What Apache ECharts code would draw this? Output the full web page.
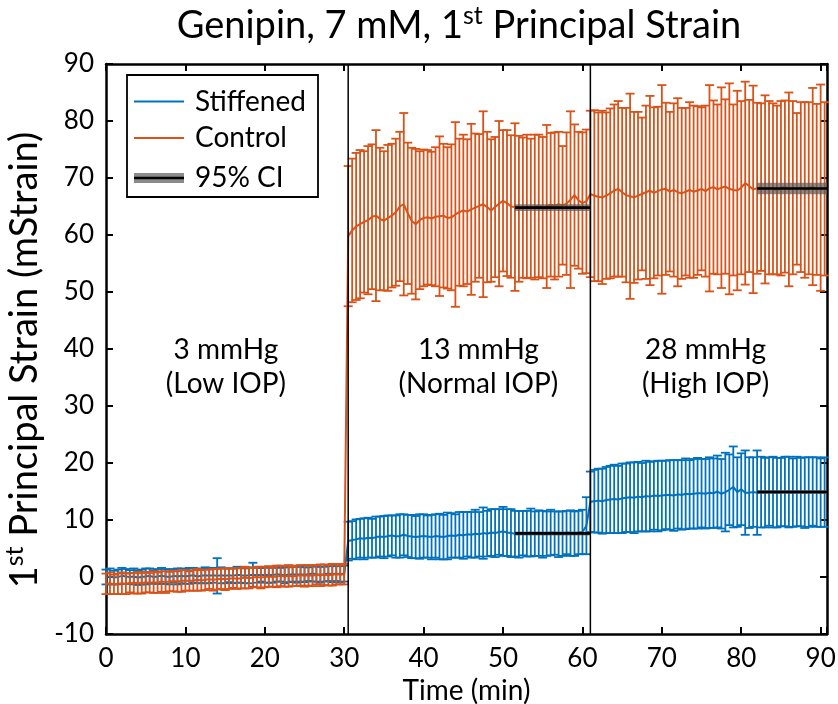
<!DOCTYPE html>
<html><head><meta charset="utf-8">
<script src="https://cdn.jsdelivr.net/npm/echarts@6/dist/echarts.min.js"></script>
<style>html,body{margin:0;padding:0;background:#fff}#c{width:838px;height:704px}</style>
</head><body><div id="c"></div>
<script>
const FONT = 'Lato';
// ---- time stamps (min) ----
const timeLow = [0,0.5,1,1.5,2,2.5,3,3.5,4,4.5,5,5.5,6,6.5,7,7.5,8,8.5,9,9.5,10,10.5,11,11.5,12,12.5,13,13.5,14,14.5,15,15.5,16,16.5,17,17.5,18,18.5,19,19.5,20,20.5,21,21.5,22,22.5,23,23.5,24,24.5,25,25.5,26,26.5,27,27.5,28,28.5,29,29.5,30];
const timeNormal = [30.5,31,31.5,32,32.5,33,33.5,34,34.5,35,35.5,36,36.5,37,37.5,38,38.5,39,39.5,40,40.5,41,41.5,42,42.5,43,43.5,44,44.5,45,45.5,46,46.5,47,47.5,48,48.5,49,49.5,50,50.5,51,51.5,52,52.5,53,53.5,54,54.5,55,55.5,56,56.5,57,57.5,58,58.5,59,59.5,60,60.5];
const timeHigh = [61,61.5,62,62.5,63,63.5,64,64.5,65,65.5,66,66.5,67,67.5,68,68.5,69,69.5,70,70.5,71,71.5,72,72.5,73,73.5,74,74.5,75,75.5,76,76.5,77,77.5,78,78.5,79,79.5,80,80.5,81,81.5,82,82.5,83,83.5,84,84.5,85,85.5,86,86.5,87,87.5,88,88.5,89,89.5,90,90.5];

// ---- Stiffened: mean and error (mStrain) ----
const stiffMeanLow = [0.0,0.1,-0.1,0.0,0.2,0.1,0.0,0.1,-0.1,0.0,
 0.1,0.2,0.0,0.1,0.2,0.1,0.0,0.2,0.1,0.2,
 0.1,0.2,0.3,0.1,0.2,0.3,0.2,0.3,0.2,0.3,
 0.2,0.3,0.2,0.4,0.3,0.2,0.3,0.4,0.3,0.4,
 0.3,0.4,0.3,0.5,0.4,0.3,0.4,0.5,0.4,0.5,
 0.4,0.5,0.6,0.5,0.4,0.5,0.6,0.5,0.6,0.5,
 0.6];
const stiffErrLow = [1.3,1.4,1.2,1.3,1.4,1.3,1.2,1.4,1.3,1.3,
 1.4,1.3,1.2,1.3,1.4,1.3,1.3,1.2,1.4,1.3,
 1.3,1.4,1.3,1.2,1.3,1.4,1.3,1.3,3.1,1.4,
 1.3,1.2,1.3,1.4,1.3,1.3,1.4,2.1,1.3,1.2,
 1.3,1.4,1.3,1.3,1.2,1.4,1.3,1.3,1.4,1.3,
 1.3,1.2,1.4,1.3,1.4,1.3,1.3,1.4,1.3,1.4,
 1.4];
const stiffMeanNormal = [6.3,6.5,6.6,6.8,6.7,6.9,6.8,7.0,7.1,7.0,
 7.2,7.3,7.1,7.2,7.4,7.2,7.1,7.0,7.1,7.2,
 7.1,7.0,7.2,7.1,7.0,7.2,7.3,7.2,7.4,7.3,
 7.5,7.4,7.6,7.5,7.7,7.6,7.8,7.7,7.9,8.0,
 7.8,7.7,7.6,7.5,7.7,7.6,7.8,7.6,7.7,7.5,
 7.6,7.8,7.7,7.5,7.6,7.8,7.7,7.6,7.8,7.9,
 9.0];
const stiffErrNormal = [3.4,3.3,3.5,3.4,3.6,3.5,3.4,3.6,3.5,3.7,
 3.6,3.5,3.7,3.8,3.6,3.7,3.8,3.7,3.9,3.8,
 3.7,3.9,3.8,4.0,3.9,4.1,3.9,3.8,4.0,4.1,
 3.9,4.0,4.2,3.9,4.5,4.0,4.1,4.2,4.0,4.3,
 4.1,4.2,4.0,4.1,3.9,4.0,4.2,3.9,4.0,4.1,
 3.9,4.0,3.8,4.0,3.9,3.8,4.0,3.9,3.8,3.9,
 5.0];
const stiffMeanHigh = [13.2,13.3,13.4,13.3,13.5,13.6,13.7,13.6,13.8,13.9,
 14.0,13.9,14.1,14.0,14.2,14.1,14.3,14.2,14.3,14.4,
 14.4,14.3,14.5,14.4,14.6,14.5,14.6,14.7,14.7,14.6,
 14.8,14.7,15.0,14.6,14.9,15.3,15.8,14.9,15.4,14.8,
 14.8,14.9,14.8,14.9,14.8,15.0,14.9,14.8,14.9,15.0,
 14.9,14.8,15.0,14.9,14.8,14.9,15.0,14.9,14.8,14.9];
const stiffErrHigh = [5.3,5.5,5.6,5.7,5.8,5.9,6.0,5.9,6.1,6.0,
 6.1,6.2,6.1,6.0,6.2,6.1,6.0,6.2,6.1,6.0,
 6.1,6.2,6.0,6.1,6.2,6.0,6.1,6.2,6.0,6.1,
 6.2,6.1,6.3,6.1,6.9,6.2,7.1,6.1,6.3,7.4,
 6.2,6.1,7.4,6.2,6.1,6.0,6.2,6.1,6.0,6.1,
 6.2,6.0,6.1,6.0,6.2,6.1,6.0,6.1,6.0,6.1];

// ---- Control: mean and error (mStrain) ----
const ctrlMeanLow = [-1.2,-1.1,-1.3,-1.2,-1.1,-1.2,-1.0,-1.1,-1.0,-1.1,
 -0.9,-1.0,-0.9,-1.0,-0.8,-0.9,-0.8,-0.7,-0.8,-0.7,
 -0.6,-0.7,-0.6,-0.5,-0.6,-0.5,-0.4,-0.5,-0.4,-0.3,
 -0.4,-0.3,-0.2,-0.3,-0.2,-0.1,-0.2,-0.1,0.0,-0.1,
 0.0,0.1,0.0,0.1,0.2,0.1,0.2,0.1,0.2,0.3,
 0.2,0.3,0.2,0.4,0.3,0.4,0.3,0.4,0.5,0.4,
 0.5];
const ctrlErrLow = [1.8,1.9,1.7,1.8,1.9,1.8,1.7,1.8,1.9,1.8,
 1.8,1.7,1.9,1.8,1.8,1.9,1.7,1.8,1.8,1.9,
 1.8,1.7,1.8,1.9,1.8,1.8,1.7,1.9,1.8,1.8,
 1.9,1.8,1.7,1.8,1.8,1.9,1.8,1.7,1.8,1.9,
 1.8,1.8,1.7,1.9,1.8,1.8,1.9,1.7,1.8,1.8,
 1.9,1.8,1.8,1.7,1.9,1.8,1.8,1.9,1.8,1.7,
 1.8];
const ctrlMeanNormal = [59.8,60.8,61.5,61.9,62.3,62.6,63.2,63.4,62.8,62.5,
 63.0,63.4,64.0,65.0,65.4,63.8,62.5,61.9,62.6,63.0,
 63.1,62.9,63.2,63.3,63.4,63.0,63.1,63.6,64.0,64.3,
 64.1,64.5,64.8,65.1,65.4,64.9,64.3,64.9,65.5,66.0,
 65.6,65.0,64.9,64.6,64.8,65.0,64.7,64.9,65.1,64.8,
 65.0,65.3,65.1,65.4,65.2,65.5,66.2,67.0,66.1,65.6,
 65.9];
const ctrlErrNormal = [12.3,12.6,12.9,13.0,12.4,13.0,12.7,15.0,12.5,12.2,
 12.8,12.6,12.9,13.1,16.0,12.4,12.8,13.2,12.1,12.0,
 11.8,11.7,12.2,14.0,12.6,12.4,12.8,16.2,12.9,13.3,
 12.7,15.0,13.0,12.6,16.3,13.2,12.5,12.3,14.5,12.4,
 12.8,12.5,14.7,12.8,12.3,12.6,12.2,12.7,12.5,12.4,
 14.3,12.6,12.9,12.7,10.4,12.5,15.5,12.4,12.0,12.4,
 12.6];
const ctrlMeanHigh = [67.2,66.9,66.7,66.6,66.9,67.3,67.8,68.1,67.5,67.0,
 66.8,66.6,66.9,67.2,67.5,67.8,67.4,67.7,68.0,68.1,
 67.6,67.9,67.5,67.3,67.6,67.9,67.6,67.8,68.1,67.7,
 68.2,68.4,68.0,68.3,68.5,68.1,67.9,67.8,68.3,69.1,
 68.6,68.0,68.2,68.4,68.0,68.3,68.1,67.9,68.2,68.5,
 68.0,68.3,68.1,68.4,67.9,68.2,68.5,68.0,68.3,68.1];
const ctrlErrHigh = [14.6,15.0,14.8,15.2,14.6,14.9,15.1,15.4,14.8,15.3,
 18.0,15.0,14.7,13.4,15.2,16.6,15.0,14.8,18.3,15.1,
 14.0,15.2,16.5,15.0,14.7,15.4,15.1,14.8,14.3,15.0,
 18.1,15.2,14.9,17.6,15.3,18.5,15.0,17.5,15.2,17.8,
 15.1,18.2,15.0,14.7,16.5,15.2,15.0,14.8,15.3,15.1,
 17.0,15.2,13.3,14.9,15.4,15.1,17.3,15.0,18.1,15.2];

// ---- 95% CI of steady-state window ----
const ciStart = [51.5, 51.5, 82, 82];
const ciEnd   = [61, 61, 90.8, 90.8];
const ciMean  = [7.65, 64.8, 14.9, 68.15];
const ciHalf  = [0.3, 0.6, 0.3, 1.0];

// ---- pressure step boundaries and labels ----
const stepBoundaries = [30.5, 61];
const stepLabels = ['3 mmHg\n(Low IOP)', '13 mmHg\n(Normal IOP)', '28 mmHg\n(High IOP)'];
const stepLabelTime = [15.1, 46.9, 75.5];

const xTicks = [0,10,20,30,40,50,60,70,80,90];

const time = timeLow.concat(timeNormal, timeHigh);
const stiffMean = stiffMeanLow.concat(stiffMeanNormal, stiffMeanHigh);
const stiffErr = stiffErrLow.concat(stiffErrNormal, stiffErrHigh);
const ctrlMean = ctrlMeanLow.concat(ctrlMeanNormal, ctrlMeanHigh);
const ctrlErr = ctrlErrLow.concat(ctrlErrNormal, ctrlErrHigh);

const BLUE = '#0072BD', ORANGE = '#D95319';
const XMAX = 90.8;

function errRender(color) {
  return function (params, api) {
    const t = api.value(0), m = api.value(1), e = api.value(2);
    const lo = api.coord([t, m - e]), hi = api.coord([t, m + e]);
    const w = 4.5;
    const style = { stroke: color, lineWidth: 1.8, fill: null };
    return { type: 'group', children: [
      { type: 'line', shape: { x1: lo[0], y1: lo[1], x2: hi[0], y2: hi[1] }, style: style },
      { type: 'line', shape: { x1: lo[0] - w, y1: lo[1], x2: lo[0] + w, y2: lo[1] }, style: style },
      { type: 'line', shape: { x1: hi[0] - w, y1: hi[1], x2: hi[0] + w, y2: hi[1] }, style: style }
    ]};
  };
}

const chart = echarts.init(document.getElementById('c'), null, { renderer: 'canvas' });

const axisCommon = {
  axisLine: { show: true, onZero: false, lineStyle: { color: '#000', width: 2.5 } },
  axisTick: { show: true, inside: true, length: 7, lineStyle: { color: '#000', width: 2 } },
  splitLine: { show: false }
};

const option = {
  animation: false,
  backgroundColor: '#fff',
  textStyle: { fontFamily: FONT },
  title: {
    text: '{a|Genipin, 7 mM, 1}{s|st}{a| Principal Strain}',
    left: 454, top: -2, textAlign: 'center',
    textStyle: {
      fontWeight: 'normal', fontSize: 38, fontFamily: FONT,
      rich: {
        a: { fontFamily: FONT, fontSize: 38, fontWeight: 'normal', color: '#000', lineHeight: 46 },
        s: { fontFamily: FONT, fontSize: 25, fontWeight: 'normal', color: '#000', verticalAlign: 'top', lineHeight: 28 }
      }
    }
  },
  grid: { left: 106, right: 11, top: 64, bottom: 70, containLabel: false, outerBoundsMode: 'none' },
  xAxis: [
    Object.assign({
      type: 'value', min: 0, max: XMAX, interval: 10, position: 'bottom',
      name: 'Time (min)', nameLocation: 'middle', nameGap: 36,
      nameTextStyle: { fontFamily: FONT, fontSize: 28, color: '#000' },
      axisLabel: { fontFamily: FONT, fontSize: 26, color: '#000', margin: 12,
        formatter: function (v) { return xTicks.indexOf(v) >= 0 ? String(v) : ''; } }
    }, axisCommon),
    Object.assign({
      type: 'value', min: 0, max: XMAX, interval: 10, position: 'top',
      axisLabel: { show: false }
    }, axisCommon)
  ],
  yAxis: [
    Object.assign({
      type: 'value', min: -10, max: 90, interval: 10, position: 'left',
      name: '{a|1}{s|st}{a| Principal Strain (mStrain)}', nameLocation: 'middle', nameGap: 44,
      nameTextStyle: {
        fontSize: 38, fontFamily: FONT, color: '#000', padding: [0, 22, 0, 0],
        rich: {
          a: { fontFamily: FONT, fontSize: 38, color: '#000', lineHeight: 44 },
          s: { fontFamily: FONT, fontSize: 25, color: '#000', verticalAlign: 'top', lineHeight: 27 }
        }
      },
      axisLabel: { fontFamily: FONT, fontSize: 26, color: '#000', margin: 12 }
    }, axisCommon),
    Object.assign({
      type: 'value', min: -10, max: 90, interval: 10, position: 'right',
      axisLabel: { show: false }
    }, axisCommon)
  ],
  series: [
    {
      name: 'Stiffened bars', type: 'custom', xAxisIndex: 0, yAxisIndex: 0,
      renderItem: errRender(BLUE), encode: { x: 0, y: 1 },
      data: time.map(function (t, i) { return [t, stiffMean[i], stiffErr[i]]; }), z: 2
    },
    {
      name: 'Stiffened', type: 'line', showSymbol: false, symbol: 'none',
      lineStyle: { color: BLUE, width: 2 }, itemStyle: { color: BLUE },
      data: time.map(function (t, i) { return [t, stiffMean[i]]; }), z: 3
    },
    {
      name: 'Control bars', type: 'custom',
      renderItem: errRender(ORANGE), encode: { x: 0, y: 1 },
      data: time.map(function (t, i) { return [t, ctrlMean[i], ctrlErr[i]]; }), z: 4
    },
    {
      name: 'Control', type: 'line', showSymbol: false, symbol: 'none',
      lineStyle: { color: ORANGE, width: 2 }, itemStyle: { color: ORANGE },
      data: time.map(function (t, i) { return [t, ctrlMean[i]]; }), z: 5
    },
    {
      name: 'boundaries', type: 'custom', z: 6,
      renderItem: function (params, api) {
        const x = api.coord([api.value(0), 0])[0];
        const cs = params.coordSys;
        return { type: 'line', shape: { x1: x, y1: cs.y, x2: x, y2: cs.y + cs.height },
          style: { stroke: '#000', lineWidth: 1.5 } };
      },
      encode: { x: 0 },
      data: stepBoundaries.map(function (b) { return [b]; })
    },
    {
      name: '95% CI', type: 'custom', z: 7,
      renderItem: function (params, api) {
        const s = api.value(0), e = api.value(1), m = api.value(2), h = api.value(3);
        const p1 = api.coord([s, m + h]), p2 = api.coord([e, m - h]);
        const pm1 = api.coord([s, m]), pm2 = api.coord([e, m]);
        const hh = Math.max(p2[1] - p1[1], 4);
        return { type: 'group', children: [
          { type: 'rect', shape: { x: p1[0], y: (p1[1] + p2[1]) / 2 - hh / 2, width: p2[0] - p1[0], height: hh },
            style: { fill: 'rgba(90,90,90,0.7)' } },
          { type: 'line', shape: { x1: pm1[0], y1: pm1[1], x2: pm2[0], y2: pm2[1] },
            style: { stroke: '#000', lineWidth: 2.6 } }
        ]};
      },
      encode: { x: [0, 1], y: 2 },
      data: ciStart.map(function (s, i) { return [s, ciEnd[i], ciMean[i], ciHalf[i]]; })
    },
    {
      name: 'step labels', type: 'custom', z: 8,
      renderItem: function (params, api) {
        const p = api.coord([api.value(0), api.value(1)]);
        return { type: 'text', style: { text: stepLabels[api.value(2)], x: p[0], y: p[1],
          align: 'center', verticalAlign: 'middle', fontFamily: FONT, fontSize: 28, lineHeight: 34, fill: '#000' } };
      },
      encode: { x: 0, y: 1 },
      data: stepLabelTime.map(function (t, i) { return [t, 36.9, i]; })
    }
  ],
  graphic: [
    { type: 'group', z: 100, children: [
      { type: 'rect', shape: { x: 127, y: 75, width: 191, height: 122 },
        style: { fill: '#fff', stroke: '#000', lineWidth: 1.8 } },
      { type: 'line', shape: { x1: 134, y1: 101.5, x2: 184, y2: 101.5 }, style: { stroke: BLUE, lineWidth: 1.8 } },
      { type: 'text', style: { text: 'Stiffened', x: 195, y: 101.5, verticalAlign: 'middle', fontFamily: FONT, fontSize: 28, fill: '#000' } },
      { type: 'line', shape: { x1: 134, y1: 138, x2: 184, y2: 138 }, style: { stroke: ORANGE, lineWidth: 1.8 } },
      { type: 'text', style: { text: 'Control', x: 195, y: 138, verticalAlign: 'middle', fontFamily: FONT, fontSize: 28, fill: '#000' } },
      { type: 'rect', shape: { x: 134, y: 173, width: 50, height: 10 }, style: { fill: 'rgba(90,90,90,0.7)' } },
      { type: 'line', shape: { x1: 134, y1: 178, x2: 184, y2: 178 }, style: { stroke: '#000', lineWidth: 2.6 } },
      { type: 'text', style: { text: '95% CI', x: 195, y: 178, verticalAlign: 'middle', fontFamily: FONT, fontSize: 28, fill: '#000' } }
    ]}
  ]
};
chart.setOption(option);
</script>
</body></html>
